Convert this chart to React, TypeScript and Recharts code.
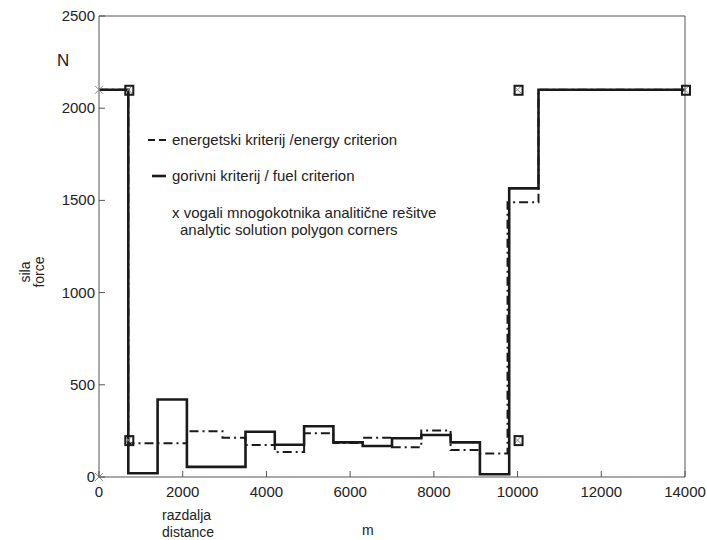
import React from "react";
import { ComposedChart, Line, Scatter, XAxis, YAxis } from "recharts";

// fuel criterion (solid) - step starts
const fuelX = [0, 700, 1400, 2100, 3500, 4200, 4900, 5600, 6300, 7000, 7700, 8400, 9100, 9800, 10500, 14000];
const fuelY = [2100, 20, 420, 55, 245, 175, 275, 188, 168, 210, 228, 188, 15, 1565, 2100, 2100];

// energy criterion (dashed) - step starts
const energyX = [0, 700, 2100, 2950, 3500, 4200, 4900, 5600, 6300, 7000, 7700, 8400, 9100, 9760, 10500, 14000];
const energyY = [2100, 183, 248, 213, 173, 135, 237, 185, 213, 162, 252, 146, 128, 1490, 2100, 2100];

// analytic polygon corners
const cornerX = [0, 0, 700, 700, 10000, 10000, 14000];
const cornerY = [0, 2100, 2100, 200, 200, 2100, 2100];
const cornerBoxed = [false, false, true, true, true, true, true];

const xTicks = [0, 2000, 4000, 6000, 8000, 10000, 12000, 14000];
const yTicks = [0, 500, 1000, 1500, 2000, 2500];

const FONT = "'Liberation Sans', Arial, Helvetica, sans-serif";
const AX = "#555";
const TXT = "#222";

const fuelData = fuelX.map((x, i) => ({ x, y: fuelY[i] }));
const energyData = energyX.map((x, i) => ({ x, y: energyY[i] }));
const cornerData = cornerX.map((x, i) => ({ x, y: cornerY[i], boxed: cornerBoxed[i] }));

const XTickBottom = (p: any) => (
  <g>
    <line x1={p.x} x2={p.x} y1={p.y} y2={p.y - 6} stroke={AX} />
    <text x={p.x} y={p.y + 20} textAnchor="middle" fontSize={15} fill={TXT} fontFamily={FONT}>
      {p.payload.value}
    </text>
  </g>
);
const XTickTop = (p: any) => (
  <line x1={p.x} x2={p.x} y1={p.y} y2={p.y + 6} stroke={AX} />
);
const YTickLeft = (p: any) => (
  <g>
    <line x1={p.x} x2={p.x + 6} y1={p.y} y2={p.y} stroke={AX} />
    <text x={p.x - 4} y={p.y + 5} textAnchor="end" fontSize={15} fill={TXT} fontFamily={FONT}>
      {p.payload.value}
    </text>
  </g>
);
const YTickRight = (p: any) => (
  <line x1={p.x} x2={p.x - 6} y1={p.y} y2={p.y} stroke={AX} />
);

const CornerShape = (p: any) => {
  const cx = p.cx;
  const cy = p.cy;
  const s = 4;
  return (
    <g>
      <line x1={cx - s} y1={cy - s} x2={cx + s} y2={cy + s} stroke="#888" strokeWidth={1} />
      <line x1={cx - s} y1={cy + s} x2={cx + s} y2={cy - s} stroke="#888" strokeWidth={1} />
      {p.payload && p.payload.boxed ? (
        <rect x={cx - 3} y={cy - 4} width={8} height={9} fill="none" stroke="#1a1a1a" strokeWidth={2} />
      ) : null}
    </g>
  );
};

export default function App() {
  return (
    <div style={{ position: "absolute", left: 0, top: 0, width: 707, height: 540, background: "#fff" }}>
      <ComposedChart
        width={707}
        height={540}
        margin={{ top: 15, right: 21, bottom: 33, left: 59 }}
      >
        <XAxis
          dataKey="x"
          type="number"
          domain={[0, 14000]}
          ticks={xTicks}
          allowDuplicatedCategory={false}
          tickSize={0}
          tickMargin={0}
          tickLine={false}
          height={30}
          axisLine={{ stroke: AX }}
          tick={<XTickBottom />}
          interval={0}
        />
        <XAxis
          xAxisId="top"
          orientation="top"
          type="number"
          domain={[0, 14000]}
          ticks={xTicks}
          tickSize={0}
          tickMargin={0}
          tickLine={false}
          height={1}
          axisLine={{ stroke: AX }}
          tick={<XTickTop />}
          interval={0}
        />
        <YAxis
          dataKey="y"
          type="number"
          domain={[0, 2500]}
          ticks={yTicks}
          tickSize={0}
          tickMargin={0}
          tickLine={false}
          width={40}
          axisLine={{ stroke: AX }}
          tick={<YTickLeft />}
          interval={0}
        />
        <YAxis
          yAxisId="right"
          orientation="right"
          type="number"
          domain={[0, 2500]}
          ticks={yTicks}
          tickSize={0}
          tickMargin={0}
          tickLine={false}
          width={1}
          axisLine={{ stroke: AX }}
          tick={<YTickRight />}
          interval={0}
        />
        <Line
          data={energyData}
          dataKey="y"
          type="stepAfter"
          stroke="#1a1a1a"
          strokeWidth={2}
          strokeDasharray="9 4 2 4"
          dot={false}
          activeDot={false}
          isAnimationActive={false}
        />
        <Line
          data={fuelData}
          dataKey="y"
          type="stepAfter"
          stroke="#1a1a1a"
          strokeWidth={2.6}
          dot={false}
          activeDot={false}
          isAnimationActive={false}
        />
        <Scatter
          data={cornerData}
          dataKey="y"
          shape={<CornerShape />}
          isAnimationActive={false}
        />
      </ComposedChart>
      <svg
        width={707}
        height={540}
        style={{ position: "absolute", left: 0, top: 0, pointerEvents: "none" }}
        fontFamily={FONT}
      >
        <text x={57} y={66} fontSize={17} fill={TXT}>N</text>
        <text transform="translate(30,272) rotate(-90)" textAnchor="middle" fontSize={14} fill={TXT}>sila</text>
        <text transform="translate(44,272) rotate(-90)" textAnchor="middle" fontSize={14} fill={TXT}>force</text>
        <text x={162} y={520} fontSize={14} fill={TXT}>razdalja</text>
        <text x={162} y={537} fontSize={14} fill={TXT}>distance</text>
        <text x={362} y={535} fontSize={14} fill={TXT}>m</text>

        <line x1={148} x2={166} y1={140} y2={140} stroke="#1a1a1a" strokeWidth={2} strokeDasharray="7 4" />
        <text x={172} y={145} fontSize={15} fill={TXT}>energetski kriterij /energy criterion</text>
        <line x1={152} x2={166} y1={176} y2={176} stroke="#1a1a1a" strokeWidth={2.6} />
        <text x={172} y={181} fontSize={15} fill={TXT}>gorivni kriterij / fuel criterion</text>
        <text x={172} y={218} fontSize={15} fill={TXT}>x vogali mnogokotnika analitične rešitve</text>
        <text x={180} y={235} fontSize={15} fill={TXT}>analytic solution polygon corners</text>
      </svg>
    </div>
  );
}
